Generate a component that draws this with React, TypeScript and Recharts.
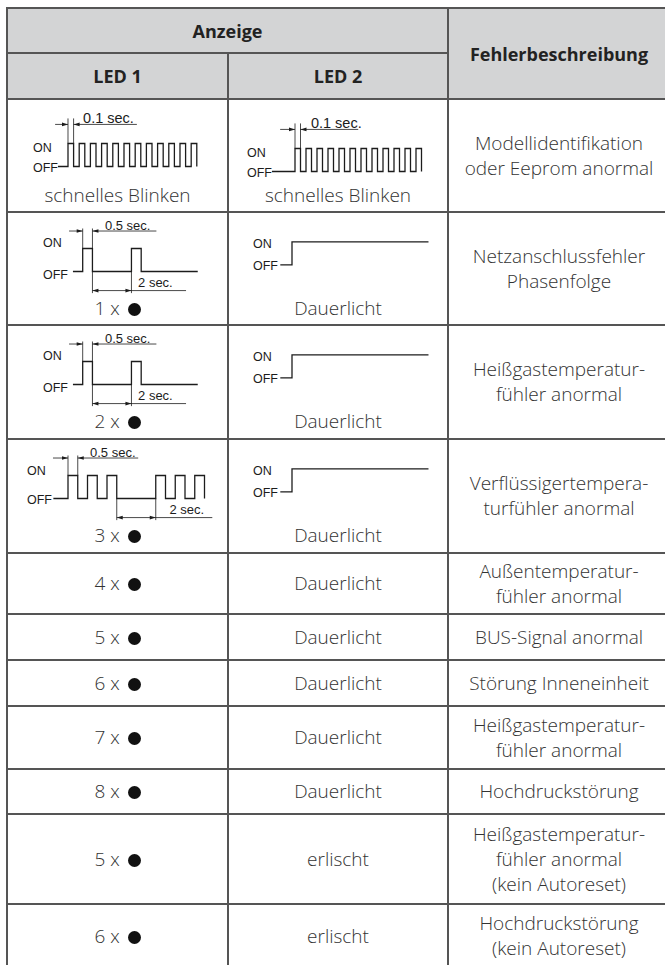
import React from "react";
import {
  LineChart,
  Line,
  XAxis,
  YAxis,
  ReferenceLine,
  ReferenceDot,
} from "recharts";

// table content, top to bottom
const led1Labels = ["schnelles Blinken", "1 x", "2 x", "3 x", "4 x", "5 x", "6 x", "7 x", "8 x", "5 x", "6 x"];
const led2Labels = [
  "schnelles Blinken",
  "Dauerlicht",
  "Dauerlicht",
  "Dauerlicht",
  "Dauerlicht",
  "Dauerlicht",
  "Dauerlicht",
  "Dauerlicht",
  "Dauerlicht",
  "erlischt",
  "erlischt",
];
const faultTexts = [
  ["Modellidentifikation", "oder Eeprom anormal"],
  ["Netzanschlussfehler", "Phasenfolge"],
  ["Heißgastemperatur-", "fühler anormal"],
  ["Verflüssigertempera-", "turfühler anormal"],
  ["Außentemperatur-", "fühler anormal"],
  ["BUS-Signal anormal"],
  ["Störung Inneneinheit"],
  ["Heißgastemperatur-", "fühler anormal"],
  ["Hochdruckstörung"],
  ["Heißgastemperatur-", "fühler anormal", "(kein Autoreset)"],
  ["Hochdruckstörung", "(kein Autoreset)"],
];

// LED waveforms: edge times in seconds, level 1 = ON, 0 = OFF
const fastBlinkT = [-0.18, 0, 0.1, 0.2, 0.3, 0.4, 0.5, 0.6, 0.7, 0.8, 0.9, 1.0, 1.1, 1.2, 1.3, 1.4, 1.5, 1.6, 1.7, 1.8, 1.9, 2.0, 2.1, 2.2, 2.3];
const fastBlink2T = [-0.42, 0, 0.1, 0.2, 0.3, 0.4, 0.5, 0.6, 0.7, 0.8, 0.9, 1.0, 1.1, 1.2, 1.3, 1.4, 1.5, 1.6, 1.7, 1.8, 1.9, 2.0, 2.1, 2.2, 2.3];
const fastBlinkV = [0, 1, 0, 1, 0, 1, 0, 1, 0, 1, 0, 1, 0, 1, 0, 1, 0, 1, 0, 1, 0, 1, 0, 1, 0];
const singleBlinkT = [-0.5, 0, 0.5, 2.5, 3.0, 5.9];
const singleBlinkV = [0, 1, 0, 1, 0, 0];
const tripleBlinkT = [-0.75, 0, 0.5, 1, 1.5, 2, 2.5, 4.5, 5, 5.5, 6, 6.5, 7];
const tripleBlinkV = [0, 1, 0, 1, 0, 1, 0, 1, 0, 1, 0, 1, 0];
const steadyT = [-0.6, 0, 7];
const steadyV = [0, 1, 1];

// dimension marks (seconds)
const fastMark = { label: "0.1 sec.", from: 0, to: 0.1 };
const onMark = { label: "0.5 sec.", from: 0, to: 0.5 };
const pauseMark1 = { label: "2 sec.", from: 0.5, to: 2.5 };
const pauseMark3 = { label: "2 sec.", from: 2.5, to: 4.5 };

// layout
const rowEdges = [99, 212, 325, 439, 553, 614, 660, 706, 769, 814, 904, 968];
const colEdges = [7, 228, 448, 670];
const TEXT_FONT = "'Open Sans', 'Noto Sans', sans-serif";
const DIAGRAM_FONT = "'Liberation Sans', Arial, sans-serif";
const GRID = "#555";
const INK = "#1c1c1c";
const UNIT = 23;

type Mark = { label: string; from: number; to: number };
type TopDim = { mark: Mark; lineFrom: number; lineTo: number; textAt: number; tickTo: number; lineY: number; textY: number; size: number };
type BottomDim = { mark: Mark; lineTo: number; textAt: number; tickTo: number; lineY: number; textY: number };

function arrow(dir: "left" | "right") {
  return (p: any) => {
    const { cx, cy } = p;
    const s = dir === "right" ? -1 : 1;
    return (
      <polygon
        points={`${cx},${cy} ${cx + s * 6},${cy - 1.8} ${cx + s * 6},${cy + 1.8}`}
        fill={INK}
      />
    );
  };
}

function textShape(label: string, size = 13) {
  return (p: any) => (
    <text x={p.cx} y={p.cy} fontSize={size} fontFamily={DIAGRAM_FONT} fill={INK}>
      {label}
    </text>
  );
}

function Wave({
  times,
  levels,
  x0,
  y0,
  scale,
  d0,
  d1,
  labelX,
  onDy,
  offDy,
  top,
  bottom,
  yhi = 2.5,
  ylo = -1.5,
}: {
  times: number[];
  levels: number[];
  x0: number;
  y0: number;
  scale: number;
  d0: number;
  d1: number;
  labelX: number;
  onDy: number;
  offDy: number;
  top?: TopDim;
  bottom?: BottomDim;
  yhi?: number;
  ylo?: number;
}) {
  const left = labelX - 2;
  const axisW = x0 + d0 * scale - left;
  const width = axisW + (d1 - d0) * scale;
  const chartTop = y0 - (yhi - 1) * UNIT;
  const height = (yhi - ylo) * UNIT;
  const data = times.map((t, i) => ({ t, v: levels[i] }));
  const extras: React.ReactElement[] = [];

  if (top) {
    const { mark } = top;
    extras.push(
      <ReferenceLine key="tt1" segment={[{ x: mark.from, y: 1 }, { x: mark.from, y: top.tickTo }]} stroke={INK} strokeWidth={0.8} />,
      <ReferenceLine key="tt2" segment={[{ x: mark.to, y: 1 }, { x: mark.to, y: top.tickTo }]} stroke={INK} strokeWidth={0.8} />,
      <ReferenceLine key="tl1" segment={[{ x: top.lineFrom, y: top.lineY }, { x: mark.from, y: top.lineY }]} stroke={INK} strokeWidth={0.8} />,
      <ReferenceLine key="tl2" segment={[{ x: mark.to, y: top.lineY }, { x: top.lineTo, y: top.lineY }]} stroke={INK} strokeWidth={0.8} />,
      <ReferenceDot key="ta1" x={mark.from} y={top.lineY} shape={arrow("right")} />,
      <ReferenceDot key="ta2" x={mark.to} y={top.lineY} shape={arrow("left")} />,
      <ReferenceDot key="tx" x={top.textAt} y={top.textY} shape={textShape(mark.label, top.size)} />
    );
  }
  if (bottom) {
    const { mark } = bottom;
    extras.push(
      <ReferenceLine key="bt1" segment={[{ x: mark.from, y: 0 }, { x: mark.from, y: bottom.tickTo }]} stroke={INK} strokeWidth={0.8} />,
      <ReferenceLine key="bt2" segment={[{ x: mark.to, y: 0 }, { x: mark.to, y: bottom.tickTo }]} stroke={INK} strokeWidth={0.8} />,
      <ReferenceLine key="bl" segment={[{ x: mark.from, y: bottom.lineY }, { x: bottom.lineTo, y: bottom.lineY }]} stroke={INK} strokeWidth={0.8} />,
      <ReferenceDot key="ba1" x={mark.from} y={bottom.lineY} shape={arrow("left")} />,
      <ReferenceDot key="ba2" x={mark.to} y={bottom.lineY} shape={arrow("right")} />,
      <ReferenceDot key="bx" x={bottom.textAt} y={bottom.textY} shape={textShape(mark.label)} />
    );
  }

  return (
    <div style={{ position: "absolute", left, top: chartTop }}>
      <LineChart width={width} height={height} data={data} margin={{ top: 0, right: 0, bottom: 0, left: 0 }}>
        <XAxis type="number" dataKey="t" domain={[d0, d1]} allowDataOverflow hide />
        <YAxis
          type="number"
          domain={[ylo, yhi]}
          allowDataOverflow
          ticks={[0, 1]}
          interval={0}
          width={axisW}
          axisLine={false}
          tickLine={false}
          tickSize={0}
          tick={(p: any) => (
            <text
              key={p.payload.value}
              x={2}
              y={p.y + (p.payload.value === 1 ? onDy : offDy)}
              fontSize={12.5}
              fontFamily={DIAGRAM_FONT}
              fill={INK}
            >
              {p.payload.value === 1 ? "ON" : "OFF"}
            </text>
          )}
        />
        {extras}
        <Line
          type="stepAfter"
          dataKey="v"
          stroke={INK}
          strokeWidth={1.3}
          dot={false}
          activeDot={false}
          isAnimationActive={false}
        />
      </LineChart>
    </div>
  );
}

function BlackDot() {
  return (
    <span
      style={{
        display: "inline-block",
        width: 13,
        height: 13,
        borderRadius: "50%",
        background: "#111",
        marginLeft: 3,
        verticalAlign: "-1px",
      }}
    />
  );
}

function Cell({
  col,
  top,
  height,
  children,
}: {
  col: number;
  top: number;
  height: number;
  children: React.ReactNode;
}) {
  return (
    <div
      style={{
        position: "absolute",
        left: colEdges[col],
        width: colEdges[col + 1] - colEdges[col],
        top,
        height,
        display: "flex",
        alignItems: "center",
        justifyContent: "center",
        textAlign: "center",
        fontFamily: TEXT_FONT,
        fontWeight: 300,
        fontSize: 19,
        lineHeight: "25px",
        color: "#333",
      }}
    >
      {children}
    </div>
  );
}

export default function App() {
  const hLines = rowEdges.slice(0, -1);
  const waveRows = 4;

  const topDim1 = (lineFrom: number, lineTo: number, textAt: number): TopDim => ({
    mark: onMark,
    lineFrom,
    lineTo,
    textAt,
    tickTo: 1.87,
    lineY: 1.76,
    textY: 1.8,
    size: 13,
  });
  const fastDim = (lineFrom: number, lineTo: number, textAt: number): TopDim => ({
    mark: fastMark,
    lineFrom,
    lineTo,
    textAt,
    tickTo: 2.09,
    lineY: 1.83,
    textY: 1.87,
    size: 14.5,
  });
  const pauseDim = (mark: Mark, lineTo: number, textAt: number): BottomDim => ({
    mark,
    lineTo,
    textAt,
    tickTo: -0.94,
    lineY: -0.83,
    textY: -0.67,
  });

  return (
    <div
      style={{
        position: "absolute",
        left: 0,
        top: 0,
        width: 665,
        height: 965,
        overflow: "hidden",
        background: "#fff",
      }}
    >
      {/* header background */}
      <div style={{ position: "absolute", left: 7, top: 8, width: 663, height: 91, background: "#d3d4d5" }} />

      {/* grid */}
      <div style={{ position: "absolute", left: 6, top: 7, width: 664, height: 2, background: GRID }} />
      <div style={{ position: "absolute", left: 6, top: 52, width: 443, height: 2, background: GRID }} />
      {hLines.map((y) => (
        <div key={y} style={{ position: "absolute", left: 6, top: y - 1, width: 664, height: 2, background: GRID }} />
      ))}
      <div style={{ position: "absolute", left: 6, top: 7, width: 2, height: 960, background: GRID }} />
      <div style={{ position: "absolute", left: 227, top: 53, width: 2, height: 914, background: GRID }} />
      <div style={{ position: "absolute", left: 447, top: 7, width: 2, height: 960, background: GRID }} />

      {/* header text */}
      {[
        { l: 7, w: 441, t: 8, h: 45, s: "Anzeige" },
        { l: 7, w: 221, t: 53, h: 46, s: "LED 1" },
        { l: 228, w: 220, t: 53, h: 46, s: "LED 2" },
        { l: 448, w: 222, t: 8, h: 91, s: "Fehlerbeschreibung" },
      ].map((h) => (
        <div
          key={h.s}
          style={{
            position: "absolute",
            left: h.l,
            width: h.w,
            top: h.t,
            height: h.h,
            display: "flex",
            alignItems: "center",
            justifyContent: "center",
            fontFamily: TEXT_FONT,
            fontWeight: 700,
            fontSize: 18,
            color: "#222",
          }}
        >
          {h.s}
        </div>
      ))}

      {/* body text */}
      {faultTexts.map((lines, r) => {
        const top = rowEdges[r];
        const h = rowEdges[r + 1] - top;
        const wave = r < waveRows;
        const l1 = led1Labels[r];
        return (
          <React.Fragment key={r}>
            <Cell col={0} top={wave ? top + 84 : top} height={wave ? 24 : h}>
              {l1.endsWith(" x") ? (
                <span>
                  {l1} <BlackDot />
                </span>
              ) : (
                l1
              )}
            </Cell>
            <Cell col={1} top={wave ? top + 84 : top} height={wave ? 24 : h}>
              {led2Labels[r]}
            </Cell>
            <Cell col={2} top={top} height={h}>
              <div>
                {lines.map((s, i) => (
                  <div key={i}>{s}</div>
                ))}
              </div>
            </Cell>
          </React.Fragment>
        );
      })}

      {/* row 1: fast blinking */}
      <Wave
        times={fastBlinkT}
        levels={fastBlinkV}
        x0={68}
        y0={143}
        scale={56}
        d0={-0.25}
        d1={2.4}
        labelX={33}
        onDy={8.5}
        offDy={5.5}
        yhi={2.5}
        ylo={-0.5}
        top={fastDim(-0.23, 1.23, 0.27)}
      />
      <Wave
        times={fastBlink2T}
        levels={fastBlinkV}
        x0={295}
        y0={148}
        scale={55}
        d0={-0.45}
        d1={2.4}
        labelX={247}
        onDy={8.5}
        offDy={5.5}
        yhi={2.5}
        ylo={-0.5}
        top={fastDim(-0.27, 1.15, 0.29)}
      />

      {/* rows 2-3: single pulse */}
      {[1, 2].map((r) => (
        <Wave
          key={r}
          times={singleBlinkT}
          levels={singleBlinkV}
          x0={82.7}
          y0={rowEdges[r] + 36.7}
          scale={19.5}
          d0={-0.8}
          d1={6}
          labelX={43}
          onDy={-1.5}
          offDy={7.5}
          top={topDim1(-0.7, 3.78, 1.14)}
          bottom={pauseDim(pauseMark1, 5.3, 2.84)}
        />
      ))}

      {/* row 4: triple pulse */}
      <Wave
        times={tripleBlinkT}
        levels={tripleBlinkV}
        x0={68}
        y0={rowEdges[3] + 36.7}
        scale={19.5}
        d0={-0.85}
        d1={7.5}
        labelX={27}
        onDy={-1}
        offDy={5.5}
        top={topDim1(-0.77, 3.6, 1.13)}
        bottom={pauseDim(pauseMark3, 7.4, 5.2)}
      />

      {/* rows 2-4: LED 2 steady */}
      {[1, 2, 3].map((r) => (
        <Wave
          key={"s" + r}
          times={steadyT}
          levels={steadyV}
          x0={292}
          y0={rowEdges[r] + 30}
          scale={19.5}
          d0={-0.7}
          d1={7.2}
          labelX={253}
          onDy={6.5}
          offDy={5.5}
          yhi={1.6}
          ylo={-0.6}
        />
      ))}
    </div>
  );
}
